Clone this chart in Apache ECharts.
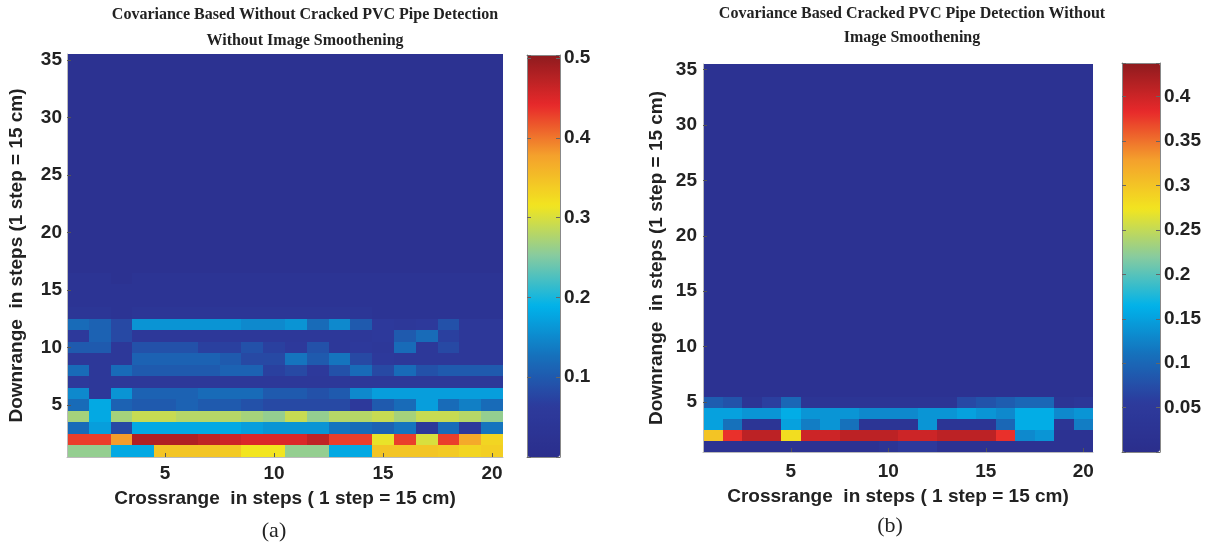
<!DOCTYPE html>
<html>
<head>
<meta charset="utf-8">
<script src="https://cdn.jsdelivr.net/npm/echarts@6/dist/echarts.min.js"></script>
<style>
html,body{margin:0;padding:0;background:#fff;}
#chart{width:1219px;height:550px;}
</style>
</head>
<body>
<div id="chart"></div>
<script>
// ---------- categories / tick labels ----------
const crossCats = ['1','2','3','4','5','6','7','8','9','10','11','12','13','14','15','16','17','18','19','20'];
const downCats = ['1','2','3','4','5','6','7','8','9','10','11','12','13','14','15','16','17','18','19','20',
  '21','22','23','24','25','26','27','28','29','30','31','32','33','34','35'];
const axisTickLabels = ['5','10','15','20','25','30','35'];
const cbTicksA = [0.1, 0.2, 0.3, 0.4, 0.5];
const cbTicksB = [0.05, 0.1, 0.15, 0.2, 0.25, 0.3, 0.35, 0.4];

// ---------- (a) rows, row 1 = bottom (downrange 1) ----------
const aRow01 = [0.26,0.26,0.18,0.18,0.345,0.345,0.345,0.34,0.315,0.315,0.26,0.26,0.18,0.18,0.345,0.345,0.345,0.34,0.33,0.335];
const aRow02 = [0.43,0.43,0.38,0.48,0.48,0.48,0.47,0.46,0.45,0.45,0.45,0.47,0.43,0.43,0.31,0.43,0.30,0.43,0.37,0.33];
const aRow03 = [0.12,0.17,0.08,0.18,0.18,0.18,0.18,0.18,0.17,0.16,0.16,0.16,0.13,0.12,0.11,0.13,0.05,0.12,0.06,0.13];
const aRow04 = [0.27,0.18,0.27,0.29,0.29,0.28,0.28,0.28,0.27,0.26,0.29,0.26,0.28,0.28,0.29,0.27,0.29,0.29,0.28,0.26];
const aRow05 = [0.12,0.18,0.11,0.10,0.10,0.11,0.10,0.10,0.09,0.08,0.08,0.08,0.08,0.06,0.10,0.12,0.17,0.12,0.14,0.12];
const aRow06 = [0.15,0.05,0.16,0.11,0.11,0.11,0.12,0.12,0.12,0.10,0.10,0.09,0.10,0.15,0.17,0.17,0.17,0.17,0.17,0.17];
const aRow07 = [0.06,0.05,0.05,0.05,0.05,0.05,0.05,0.05,0.05,0.05,0.05,0.05,0.05,0.05,0.05,0.05,0.05,0.05,0.05,0.05];
const aRow08 = [0.12,0.05,0.12,0.10,0.10,0.10,0.10,0.11,0.11,0.07,0.08,0.06,0.09,0.12,0.08,0.12,0.09,0.10,0.10,0.10];
const aRow09 = [0.05,0.05,0.05,0.11,0.11,0.11,0.11,0.10,0.08,0.08,0.13,0.10,0.13,0.08,0.06,0.05,0.05,0.05,0.05,0.05];
const aRow10 = [0.10,0.10,0.05,0.09,0.09,0.09,0.07,0.07,0.09,0.07,0.06,0.09,0.05,0.06,0.05,0.12,0.05,0.08,0.05,0.05];
const aRow11 = [0.06,0.11,0.08,0.05,0.05,0.05,0.05,0.05,0.05,0.05,0.05,0.05,0.05,0.05,0.06,0.10,0.12,0.07,0.05,0.05];
const aRow12 = [0.12,0.11,0.08,0.16,0.16,0.16,0.16,0.16,0.15,0.15,0.16,0.12,0.15,0.10,0.06,0.05,0.06,0.09,0.05,0.05];
const aRow13 = [0.04,0.04,0.03,0.04,0.04,0.04,0.04,0.04,0.04,0.04,0.04,0.04,0.04,0.04,0.03,0.03,0.03,0.03,0.03,0.03];
const aRow14 = [0.03,0.03,0.03,0.03,0.03,0.03,0.03,0.03,0.03,0.03,0.03,0.03,0.03,0.03,0.03,0.03,0.03,0.03,0.03,0.03];
const aRow15 = [0.03,0.03,0.03,0.03,0.03,0.03,0.03,0.03,0.03,0.03,0.03,0.03,0.03,0.03,0.03,0.03,0.03,0.03,0.03,0.03];
const aRow16 = [0.03,0.03,0.02,0.03,0.03,0.03,0.03,0.03,0.03,0.03,0.03,0.03,0.03,0.03,0.03,0.03,0.03,0.03,0.03,0.03];
const aRow17 = [0.02,0.02,0.02,0.02,0.02,0.02,0.02,0.02,0.02,0.02,0.02,0.02,0.02,0.02,0.02,0.02,0.02,0.02,0.02,0.02];
const aRow18 = [0.02,0.02,0.02,0.02,0.02,0.02,0.02,0.02,0.02,0.02,0.02,0.02,0.02,0.02,0.02,0.02,0.02,0.02,0.02,0.02];
const aRow19 = [0.02,0.02,0.02,0.02,0.02,0.02,0.02,0.02,0.02,0.02,0.02,0.02,0.02,0.02,0.02,0.02,0.02,0.02,0.02,0.02];
const aRow20 = [0.02,0.02,0.02,0.02,0.02,0.02,0.02,0.02,0.02,0.02,0.02,0.02,0.02,0.02,0.02,0.02,0.02,0.02,0.02,0.02];
const aRow21 = [0.02,0.02,0.02,0.02,0.02,0.02,0.02,0.02,0.02,0.02,0.02,0.02,0.02,0.02,0.02,0.02,0.02,0.02,0.02,0.02];
const aRow22 = [0.02,0.02,0.02,0.02,0.02,0.02,0.02,0.02,0.02,0.02,0.02,0.02,0.02,0.02,0.02,0.02,0.02,0.02,0.02,0.02];
const aRow23 = [0.02,0.02,0.02,0.02,0.02,0.02,0.02,0.02,0.02,0.02,0.02,0.02,0.02,0.02,0.02,0.02,0.02,0.02,0.02,0.02];
const aRow24 = [0.02,0.02,0.02,0.02,0.02,0.02,0.02,0.02,0.02,0.02,0.02,0.02,0.02,0.02,0.02,0.02,0.02,0.02,0.02,0.02];
const aRow25 = [0.02,0.02,0.02,0.02,0.02,0.02,0.02,0.02,0.02,0.02,0.02,0.02,0.02,0.02,0.02,0.02,0.02,0.02,0.02,0.02];
const aRow26 = [0.02,0.02,0.02,0.02,0.02,0.02,0.02,0.02,0.02,0.02,0.02,0.02,0.02,0.02,0.02,0.02,0.02,0.02,0.02,0.02];
const aRow27 = [0.02,0.02,0.02,0.02,0.02,0.02,0.02,0.02,0.02,0.02,0.02,0.02,0.02,0.02,0.02,0.02,0.02,0.02,0.02,0.02];
const aRow28 = [0.02,0.02,0.02,0.02,0.02,0.02,0.02,0.02,0.02,0.02,0.02,0.02,0.02,0.02,0.02,0.02,0.02,0.02,0.02,0.02];
const aRow29 = [0.02,0.02,0.02,0.02,0.02,0.02,0.02,0.02,0.02,0.02,0.02,0.02,0.02,0.02,0.02,0.02,0.02,0.02,0.02,0.02];
const aRow30 = [0.02,0.02,0.02,0.02,0.02,0.02,0.02,0.02,0.02,0.02,0.02,0.02,0.02,0.02,0.02,0.02,0.02,0.02,0.02,0.02];
const aRow31 = [0.02,0.02,0.02,0.02,0.02,0.02,0.02,0.02,0.02,0.02,0.02,0.02,0.02,0.02,0.02,0.02,0.02,0.02,0.02,0.02];
const aRow32 = [0.02,0.02,0.02,0.02,0.02,0.02,0.02,0.02,0.02,0.02,0.02,0.02,0.02,0.02,0.02,0.02,0.02,0.02,0.02,0.02];
const aRow33 = [0.02,0.02,0.02,0.02,0.02,0.02,0.02,0.02,0.02,0.02,0.02,0.02,0.02,0.02,0.02,0.02,0.02,0.02,0.02,0.02];
const aRow34 = [0.02,0.02,0.02,0.02,0.02,0.02,0.02,0.02,0.02,0.02,0.02,0.02,0.02,0.02,0.02,0.02,0.02,0.02,0.02,0.02];
const aRow35 = [0.02,0.02,0.02,0.02,0.02,0.02,0.02,0.02,0.02,0.02,0.02,0.02,0.02,0.02,0.02,0.02,0.02,0.02,0.02,0.02];

// ---------- (b) rows, row 1 = bottom ----------
const bRow01 = [0.02,0.02,0.02,0.02,0.02,0.02,0.02,0.02,0.02,0.03,0.05,0.05,0.02,0.02,0.02,0.02,0.02,0.02,0.02,0.02];
const bRow02 = [0.30,0.38,0.41,0.41,0.28,0.40,0.40,0.41,0.41,0.41,0.40,0.40,0.41,0.41,0.41,0.38,0.13,0.14,0.02,0.02];
const bRow03 = [0.15,0.11,0.03,0.03,0.15,0.12,0.14,0.11,0.03,0.03,0.03,0.14,0.03,0.03,0.03,0.10,0.16,0.16,0.03,0.12];
const bRow04 = [0.15,0.15,0.14,0.14,0.16,0.14,0.14,0.14,0.13,0.13,0.13,0.14,0.14,0.15,0.14,0.13,0.16,0.16,0.13,0.14];
const bRow05 = [0.09,0.08,0.03,0.06,0.10,0.03,0.03,0.03,0.03,0.03,0.03,0.03,0.03,0.07,0.08,0.09,0.10,0.10,0.03,0.04];
const bRow06 = [0.02,0.02,0.02,0.02,0.02,0.02,0.02,0.02,0.02,0.02,0.02,0.02,0.02,0.02,0.02,0.02,0.02,0.02,0.02,0.02];
const bRow07 = [0.02,0.02,0.02,0.02,0.02,0.02,0.02,0.02,0.02,0.02,0.02,0.02,0.02,0.02,0.02,0.02,0.02,0.02,0.02,0.02];
const bRow08 = [0.02,0.02,0.02,0.02,0.02,0.02,0.02,0.02,0.02,0.02,0.02,0.02,0.02,0.02,0.02,0.02,0.02,0.02,0.02,0.02];
const bRow09 = [0.02,0.02,0.02,0.02,0.02,0.02,0.02,0.02,0.02,0.02,0.02,0.02,0.02,0.02,0.02,0.02,0.02,0.02,0.02,0.02];
const bRow10 = [0.02,0.02,0.02,0.02,0.02,0.02,0.02,0.02,0.02,0.02,0.02,0.02,0.02,0.02,0.02,0.02,0.02,0.02,0.02,0.02];
const bRow11 = [0.02,0.02,0.02,0.02,0.02,0.02,0.02,0.02,0.02,0.02,0.02,0.02,0.02,0.02,0.02,0.02,0.02,0.02,0.02,0.02];
const bRow12 = [0.02,0.02,0.02,0.02,0.02,0.02,0.02,0.02,0.02,0.02,0.02,0.02,0.02,0.02,0.02,0.02,0.02,0.02,0.02,0.02];
const bRow13 = [0.02,0.02,0.02,0.02,0.02,0.02,0.02,0.02,0.02,0.02,0.02,0.02,0.02,0.02,0.02,0.02,0.02,0.02,0.02,0.02];
const bRow14 = [0.02,0.02,0.02,0.02,0.02,0.02,0.02,0.02,0.02,0.02,0.02,0.02,0.02,0.02,0.02,0.02,0.02,0.02,0.02,0.02];
const bRow15 = [0.02,0.02,0.02,0.02,0.02,0.02,0.02,0.02,0.02,0.02,0.02,0.02,0.02,0.02,0.02,0.02,0.02,0.02,0.02,0.02];
const bRow16 = [0.02,0.02,0.02,0.02,0.02,0.02,0.02,0.02,0.02,0.02,0.02,0.02,0.02,0.02,0.02,0.02,0.02,0.02,0.02,0.02];
const bRow17 = [0.02,0.02,0.02,0.02,0.02,0.02,0.02,0.02,0.02,0.02,0.02,0.02,0.02,0.02,0.02,0.02,0.02,0.02,0.02,0.02];
const bRow18 = [0.02,0.02,0.02,0.02,0.02,0.02,0.02,0.02,0.02,0.02,0.02,0.02,0.02,0.02,0.02,0.02,0.02,0.02,0.02,0.02];
const bRow19 = [0.02,0.02,0.02,0.02,0.02,0.02,0.02,0.02,0.02,0.02,0.02,0.02,0.02,0.02,0.02,0.02,0.02,0.02,0.02,0.02];
const bRow20 = [0.02,0.02,0.02,0.02,0.02,0.02,0.02,0.02,0.02,0.02,0.02,0.02,0.02,0.02,0.02,0.02,0.02,0.02,0.02,0.02];
const bRow21 = [0.02,0.02,0.02,0.02,0.02,0.02,0.02,0.02,0.02,0.02,0.02,0.02,0.02,0.02,0.02,0.02,0.02,0.02,0.02,0.02];
const bRow22 = [0.02,0.02,0.02,0.02,0.02,0.02,0.02,0.02,0.02,0.02,0.02,0.02,0.02,0.02,0.02,0.02,0.02,0.02,0.02,0.02];
const bRow23 = [0.02,0.02,0.02,0.02,0.02,0.02,0.02,0.02,0.02,0.02,0.02,0.02,0.02,0.02,0.02,0.02,0.02,0.02,0.02,0.02];
const bRow24 = [0.02,0.02,0.02,0.02,0.02,0.02,0.02,0.02,0.02,0.02,0.02,0.02,0.02,0.02,0.02,0.02,0.02,0.02,0.02,0.02];
const bRow25 = [0.02,0.02,0.02,0.02,0.02,0.02,0.02,0.02,0.02,0.02,0.02,0.02,0.02,0.02,0.02,0.02,0.02,0.02,0.02,0.02];
const bRow26 = [0.02,0.02,0.02,0.02,0.02,0.02,0.02,0.02,0.02,0.02,0.02,0.02,0.02,0.02,0.02,0.02,0.02,0.02,0.02,0.02];
const bRow27 = [0.02,0.02,0.02,0.02,0.02,0.02,0.02,0.02,0.02,0.02,0.02,0.02,0.02,0.02,0.02,0.02,0.02,0.02,0.02,0.02];
const bRow28 = [0.02,0.02,0.02,0.02,0.02,0.02,0.02,0.02,0.02,0.02,0.02,0.02,0.02,0.02,0.02,0.02,0.02,0.02,0.02,0.02];
const bRow29 = [0.02,0.02,0.02,0.02,0.02,0.02,0.02,0.02,0.02,0.02,0.02,0.02,0.02,0.02,0.02,0.02,0.02,0.02,0.02,0.02];
const bRow30 = [0.02,0.02,0.02,0.02,0.02,0.02,0.02,0.02,0.02,0.02,0.02,0.02,0.02,0.02,0.02,0.02,0.02,0.02,0.02,0.02];
const bRow31 = [0.02,0.02,0.02,0.02,0.02,0.02,0.02,0.02,0.02,0.02,0.02,0.02,0.02,0.02,0.02,0.02,0.02,0.02,0.02,0.02];
const bRow32 = [0.02,0.02,0.02,0.02,0.02,0.02,0.02,0.02,0.02,0.02,0.02,0.02,0.02,0.02,0.02,0.02,0.02,0.02,0.02,0.02];
const bRow33 = [0.02,0.02,0.02,0.02,0.02,0.02,0.02,0.02,0.02,0.02,0.02,0.02,0.02,0.02,0.02,0.02,0.02,0.02,0.02,0.02];
const bRow34 = [0.02,0.02,0.02,0.02,0.02,0.02,0.02,0.02,0.02,0.02,0.02,0.02,0.02,0.02,0.02,0.02,0.02,0.02,0.02,0.02];
const bRow35 = [0.02,0.02,0.02,0.02,0.02,0.02,0.02,0.02,0.02,0.02,0.02,0.02,0.02,0.02,0.02,0.02,0.02,0.02,0.02,0.02];

const aRange = [0, 0.504];
const bRange = [0, 0.438];

// ---------- build ----------
const aRows = [aRow01,aRow02,aRow03,aRow04,aRow05,aRow06,aRow07,aRow08,aRow09,aRow10,aRow11,aRow12,aRow13,aRow14,aRow15,aRow16,aRow17,aRow18,aRow19,aRow20,aRow21,aRow22,aRow23,aRow24,aRow25,aRow26,aRow27,aRow28,aRow29,aRow30,aRow31,aRow32,aRow33,aRow34,aRow35];
const bRows = [bRow01,bRow02,bRow03,bRow04,bRow05,bRow06,bRow07,bRow08,bRow09,bRow10,bRow11,bRow12,bRow13,bRow14,bRow15,bRow16,bRow17,bRow18,bRow19,bRow20,bRow21,bRow22,bRow23,bRow24,bRow25,bRow26,bRow27,bRow28,bRow29,bRow30,bRow31,bRow32,bRow33,bRow34,bRow35];
function toCells(rows){
  const out = [];
  rows.forEach((row, yi) => row.forEach((v, xi) => out.push([xi, yi, v])));
  return out;
}

const jet = ['#2b2e8c','#2d3a9c','#1670bb','#00b2ea','#86cba0','#f2e51f','#f4a12c','#e8292b','#8e1b1e'];
const SANS = '"Liberation Sans", Arial, sans-serif';
const SERIF = '"Liberation Serif", "Times New Roman", serif';
const TXT = '#222';

const showX = (i) => axisTickLabels.indexOf(crossCats[i]) >= 0;
const showY = (i) => axisTickLabels.indexOf(downCats[i]) >= 0;

// pixel-snapped cell renderer (cells positioned by the axes' own scales)
function renderCell(params, api){
  const p = api.coord([api.value(0), api.value(1)]);
  const s = api.size([1, 1]);
  const x0 = Math.round(p[0] - s[0] / 2), x1 = Math.round(p[0] + s[0] / 2);
  const y0 = Math.round(p[1] - s[1] / 2), y1 = Math.round(p[1] + s[1] / 2);
  return {type:'rect', shape:{x:x0, y:y0, width:x1 - x0, height:y1 - y0},
          style:{fill:api.visual('color')}};
}

function heatX(grid, labelMargin, nameGap){
  return {
    type:'category', gridIndex:grid, data:crossCats, position:'bottom', z:5,
    axisLine:{show:true, lineStyle:{color:'#bbb', width:1}},
    axisTick:{show:true, inside:true, length:4, alignWithLabel:true, interval:showX, lineStyle:{color:'#555'}},
    axisLabel:{interval:showX, margin:labelMargin, color:TXT, fontFamily:SANS, fontWeight:'bold', fontSize:19},
    splitLine:{show:false},
    name:'Crossrange  in steps ( 1 step = 15 cm)', nameLocation:'middle', nameGap:nameGap,
    nameTextStyle:{color:TXT, fontFamily:SANS, fontWeight:'bold', fontSize:19}
  };
}
function heatY(grid, labelMargin, nameGap){
  return {
    type:'category', gridIndex:grid, data:downCats, position:'left', z:5,
    axisLine:{show:true, lineStyle:{color:'#bbb', width:1}},
    axisTick:{show:true, inside:true, length:4, alignWithLabel:true, interval:showY, lineStyle:{color:'#555'}},
    axisLabel:{interval:showY, margin:labelMargin, color:TXT, fontFamily:SANS, fontWeight:'bold', fontSize:19},
    splitLine:{show:false},
    name:'Downrange  in steps (1 step = 15 cm)', nameLocation:'middle', nameGap:nameGap, nameRotate:90,
    nameTextStyle:{color:TXT, fontFamily:SANS, fontWeight:'bold', fontSize:19}
  };
}
function cbX(grid, pos){
  return {type:'value', gridIndex:grid, position:pos, min:0, max:1, z:10,
    axisLine:{show:true, onZero:false, lineStyle:{color:'#888', width:1}},
    axisTick:{show:false}, axisLabel:{show:false}, splitLine:{show:false}};
}
function cbY(grid, pos, range, step, ticks, labels){
  return {type:'value', gridIndex:grid, position:pos, min:range[0], max:range[1], interval:step, z:10,
    axisLine:{show:true, onZero:false, lineStyle:{color:'#888', width:1}},
    axisTick:{show:true, inside:true, length:4, lineStyle:{color:'#666'}},
    axisLabel:{show:labels, margin:4, showMaxLabel:true, color:TXT, fontFamily:SANS, fontWeight:'bold', fontSize:19,
      formatter:(v) => { const r = parseFloat(v.toFixed(3)); return ticks.some(t => Math.abs(t - r) < 1e-6) ? String(r) : ''; }},
    splitLine:{show:false}};
}

const option = {
  backgroundColor:'#fff',
  animation:false,
  title:[
    {text:'Covariance Based Without Cracked PVC Pipe Detection\nWithout Image Smoothening', left:305, top:2, textAlign:'center', padding:0,
     textStyle:{fontFamily:SERIF, fontWeight:'bold', fontSize:16, lineHeight:26, color:TXT}},
    {text:'Covariance Based Cracked PVC Pipe Detection Without\nImage Smoothening', left:912, top:2, textAlign:'center', padding:0,
     textStyle:{fontFamily:SERIF, fontWeight:'bold', fontSize:16, lineHeight:24, color:TXT}},
    {text:'(a)', left:274, top:520, textAlign:'center', padding:0,
     textStyle:{fontFamily:SERIF, fontWeight:'normal', fontSize:22, color:TXT}},
    {text:'(b)', left:890, top:515, textAlign:'center', padding:0,
     textStyle:{fontFamily:SERIF, fontWeight:'normal', fontSize:22, color:TXT}}
  ],
  grid:[
    {left:67, top:54, width:436, height:403},
    {left:703, top:64, width:390, height:388},
    {left:527, top:55, width:33, height:402},
    {left:1122, top:63, width:38, height:389}
  ],
  xAxis:[
    heatX(0, 7, 32),
    heatX(1, 10, 35),
    cbX(2,'bottom'), cbX(2,'top'),
    cbX(3,'bottom'), cbX(3,'top')
  ],
  yAxis:[
    heatY(0, 5, 41),
    heatY(1, 6, 37),
    cbY(2,'right', aRange, 0.1, cbTicksA, true), cbY(2,'left', aRange, 0.1, cbTicksA, false),
    cbY(3,'right', bRange, 0.05, cbTicksB, true), cbY(3,'left', bRange, 0.05, cbTicksB, false)
  ],
  visualMap:[
    {type:'continuous', seriesIndex:0, dimension:2, min:aRange[0], max:aRange[1], calculable:false, realtime:false,
     orient:'vertical', left:527, top:55, itemWidth:33, itemHeight:402, padding:0, text:null, showLabel:false,
     hoverLink:false, inRange:{color:jet}},
    {type:'continuous', seriesIndex:1, dimension:2, min:bRange[0], max:bRange[1], calculable:false, realtime:false,
     orient:'vertical', left:1122, top:63, itemWidth:38, itemHeight:389, padding:0, text:null, showLabel:false,
     hoverLink:false, inRange:{color:jet}}
  ],
  series:[
    {type:'custom', xAxisIndex:0, yAxisIndex:0, data:toCells(aRows), renderItem:renderCell, encode:{x:0, y:1}, silent:true},
    {type:'custom', xAxisIndex:1, yAxisIndex:1, data:toCells(bRows), renderItem:renderCell, encode:{x:0, y:1}, silent:true}
  ]
};

const chart = echarts.init(document.getElementById('chart'), null, {renderer:'canvas'});
chart.setOption(option);
</script>
</body>
</html>
